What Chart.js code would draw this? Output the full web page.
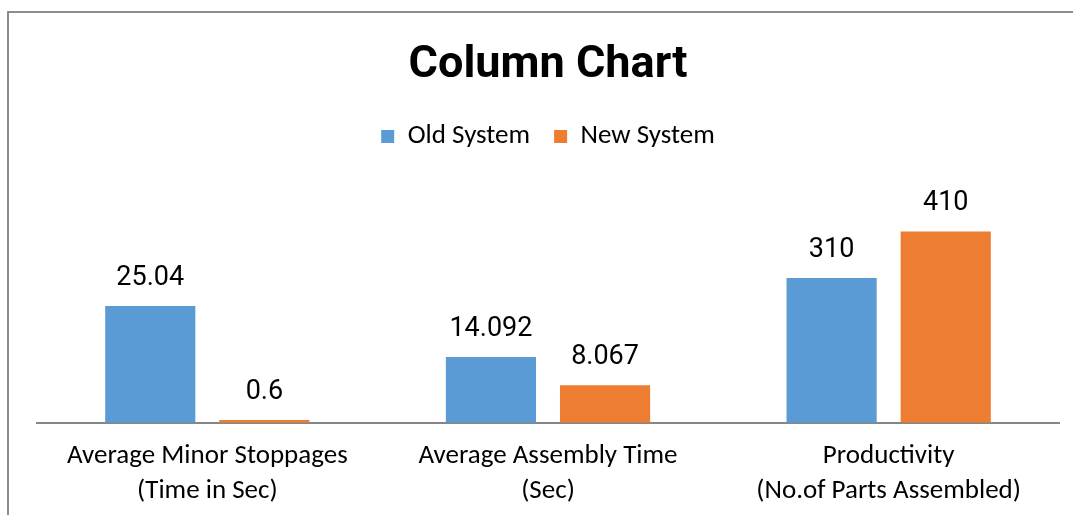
<!DOCTYPE html>
<html>
<head>
<meta charset="utf-8">
<script src="https://cdn.jsdelivr.net/npm/chart.js@4"></script>
<style>
  body { margin: 0; background: #fff; overflow: hidden; }
  #frame { position: absolute; left: 7px; top: 11px; width: 1200px; height: 700px;
           border-left: 2px solid #8c8c8c; border-top: 2px solid #8c8c8c; }
  #wrap { position: absolute; left: 0; top: 0; width: 1073px; height: 515px; }
</style>
</head>
<body>
<div id="frame"></div>
<div id="wrap"><canvas id="chart"></canvas></div>
<script>
// categories and values
const categories = [
    ['Average Minor Stoppages', '(Time in Sec)'],
    ['Average Assembly Time', '(Sec)'],
    ['Productivity', '(No.of Parts Assembled)']
];
// bar heights as drawn (productivity is drawn at 1/10 of its label)
const oldValues = [25.04, 14.092, 31];
const newValues = [0.6, 8.067, 41];
// text written above the bars
const oldLabels = ['25.04', '14.092', '310'];
const newLabels = ['0.6', '8.067', '410'];

const font = "Carlito, 'Liberation Sans', sans-serif";

// write the value labels above each bar
let valueLabels = {
    id: 'valueLabels',
    afterDatasetsDraw: chart => {
        let ctx = chart.ctx;
        ctx.save();
        ctx.font = '27px Roboto, sans-serif';
        ctx.fillStyle = '#000';
        ctx.textAlign = 'center';
        ctx.textBaseline = 'middle';
        chart.data.datasets.forEach((ds, i) => {
            let meta = chart.getDatasetMeta(i);
            meta.data.forEach((bar, j) => {
                ctx.fillText(ds.valueText[j], bar.x, bar.y - 28);
            })
        })
        ctx.restore();
    }
}

let ctx = document.getElementById('chart').getContext('2d');
new Chart(ctx, {
    type: 'bar',
    data: {
        labels: categories,
        datasets: [{
            label: 'Old System',
            data: oldValues,
            valueText: oldLabels,
            backgroundColor: '#5b9bd5'
        }, {
            label: 'New System',
            data: newValues,
            valueText: newLabels,
            backgroundColor: '#ed7d31'
        }]
    },
    options: {
        responsive: true,
        maintainAspectRatio: false,
        animation: false,
        layout: { padding: { left: 37, right: 14, top: 0, bottom: -10 } },
        datasets: { bar: { categoryPercentage: 0.67, barPercentage: 0.79 } },
        scales: {
            x: {
                grid: { display: false, drawTicks: false },
                border: { color: '#868686', width: 2 },
                ticks: { color: '#000', padding: 16, font: { family: font, size: 27, lineHeight: 1.3 } }
            },
            y: {
                display: false,
                min: 0,
                max: 56.3
            }
        },
        plugins: {
            title: {
                display: true,
                text: 'Column Chart',
                color: '#000',
                padding: { top: 39, bottom: 6 },
                font: { family: 'Roboto, sans-serif', size: 45, weight: 'bold' }
            },
            legend: {
                position: 'top',
                labels: {
                    color: '#000',
                    boxWidth: 13,
                    boxHeight: 13,
                    padding: 24,
                    font: { family: font, size: 27 }
                }
            },
            tooltip: { enabled: false }
        }
    },
    plugins: [valueLabels]
})
</script>
</body>
</html>
